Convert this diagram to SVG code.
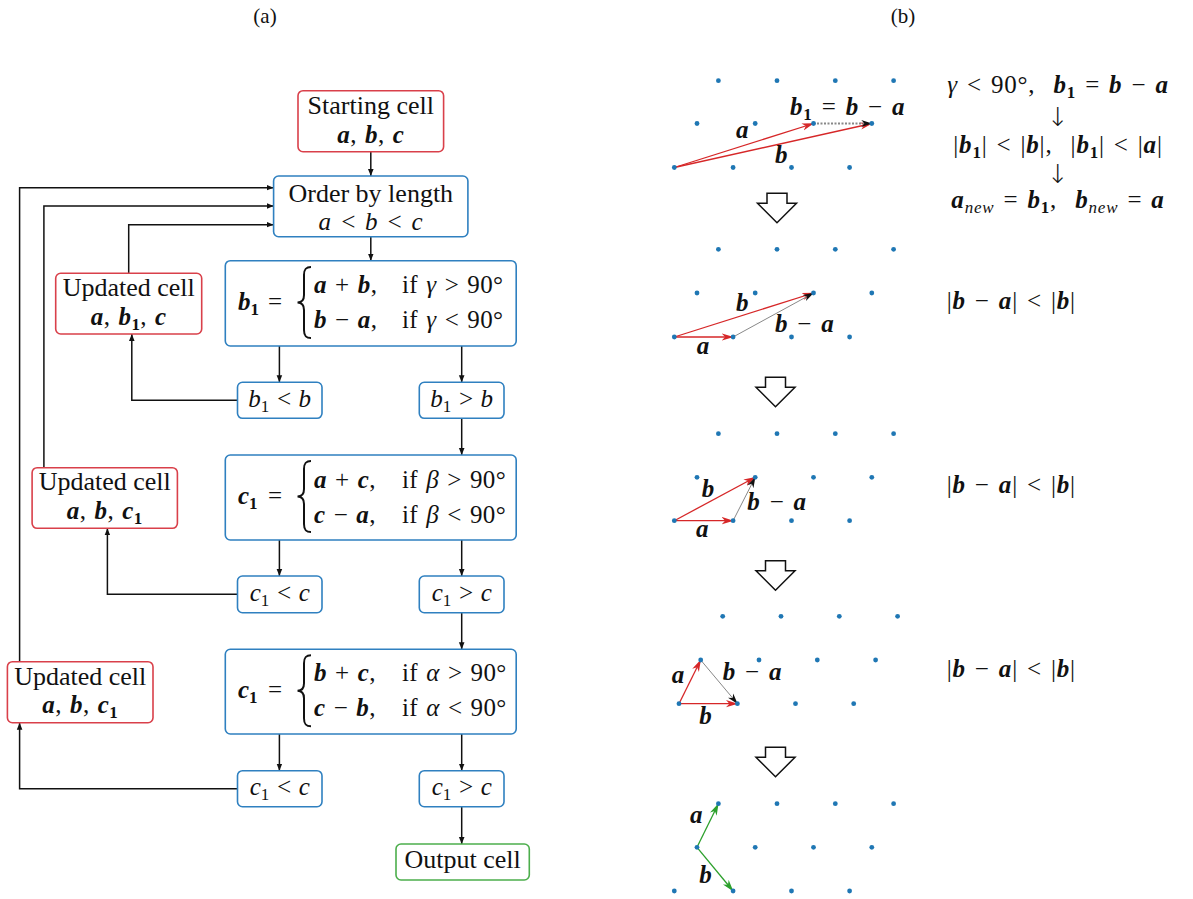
<svg xmlns="http://www.w3.org/2000/svg" xmlns:xlink="http://www.w3.org/1999/xlink" width="1193" height="899" viewBox="0 0 1193 899">
<style>
.tx{font-family:"Liberation Serif","Times New Roman",serif;font-size:26px;fill:#111}
.mt{font-family:"Liberation Serif","Times New Roman",serif;font-size:25px;fill:#111}
.sp{letter-spacing:0.4px;word-spacing:1.5px}
.spw{letter-spacing:0.8px;word-spacing:2px}
.ti{font-family:"Liberation Serif","Times New Roman",serif;font-size:21px;fill:#111}
.i{font-style:italic}
.bi{font-style:italic;font-weight:bold}
.bd{font-weight:bold}
.sub{font-size:17px}
.bx-r{fill:#fff;stroke:#d9404a;stroke-width:1.6}
.bx-b{fill:#fff;stroke:#2f80c0;stroke-width:1.6}
.bx-g{fill:#fff;stroke:#4cae4c;stroke-width:1.6}
.conn{fill:none;stroke:#111;stroke-width:1.5;marker-end:url(#ah)}
.brace{fill:none;stroke:#111;stroke-width:2}
.dot{fill:#1f77b4}
.vr{stroke:#d62728;stroke-width:1.3;fill:none;marker-end:url(#ahr)}
.vg{stroke:#2ca02c;stroke-width:1.3;fill:none;marker-end:url(#ahg)}
.vk{stroke:#888;stroke-width:1;fill:none;marker-end:url(#ahk)}
.vkd{stroke:#888;stroke-width:1.8;stroke-dasharray:2 1.5;fill:none;marker-end:url(#ahk)}
.darr{fill:#fff;stroke:#111;stroke-width:1.5}
.arw{font-family:"DejaVu Sans",sans-serif;font-weight:200;font-size:26px;fill:#111}
</style>
<defs>
<marker id="ah" viewBox="0 0 10 10" refX="10" refY="5" markerWidth="7" markerHeight="7" markerUnits="userSpaceOnUse" orient="auto"><path d="M0,1 L10,5 L0,9 z" fill="#111"/></marker>
<marker id="ahr" viewBox="0 0 12 8" refX="11.5" refY="4" markerWidth="12" markerHeight="8" markerUnits="userSpaceOnUse" orient="auto"><path d="M0,0.3 L12,4 L0,7.7 L3.5,4 z" fill="#d62728"/></marker>
<marker id="ahg" viewBox="0 0 12 8" refX="11.5" refY="4" markerWidth="12" markerHeight="8" markerUnits="userSpaceOnUse" orient="auto"><path d="M0,0.3 L12,4 L0,7.7 L3.5,4 z" fill="#2ca02c"/></marker>
<marker id="ahk" viewBox="0 0 12 8" refX="11.5" refY="4" markerWidth="11" markerHeight="7.5" markerUnits="userSpaceOnUse" orient="auto"><path d="M0,0.3 L12,4 L0,7.7 L3.5,4 z" fill="#111"/></marker>
<polygon id="darrow" points="-10,0 10,0 10,10 19.5,10 0,29.5 -19.5,10 -10,10"/>
</defs>
<rect width="1193" height="899" fill="#fff"/>

<text class="ti" x="265" y="23" text-anchor="middle">(a)</text>
<text class="ti" x="903" y="23" text-anchor="middle">(b)</text>

<g id="connectors">
<path class="conn" d="M370.8,151.7 V176"/>
<path class="conn" d="M370.8,236.7 V260.7"/>
<path class="conn" d="M279.4,346 V382.3"/>
<path class="conn" d="M461.7,346 V382.3"/>
<path class="conn" d="M237.5,400.3 H131.8 V334"/>
<path class="conn" d="M128.7,273.3 V224.7 H273.6"/>
<path class="conn" d="M461.7,418.3 V455"/>
<path class="conn" d="M279.4,540 V576"/>
<path class="conn" d="M461.7,540 V576"/>
<path class="conn" d="M237.5,594.3 H107.4 V528.3"/>
<path class="conn" d="M43.9,467.7 V206 H273.6"/>
<path class="conn" d="M461.7,612.7 V649.3"/>
<path class="conn" d="M279.4,734 V770.7"/>
<path class="conn" d="M461.7,734 V770.7"/>
<path class="conn" d="M237.5,788.7 H19.6 V722.7"/>
<path class="conn" d="M19.6,661.7 V187.7 H273.6"/>
<path class="conn" d="M461.7,806.7 V844"/>
</g>

<g id="n-start">
<rect class="bx-r" x="298" y="90.7" width="145.6" height="61" rx="5"/>
<text class="tx" x="370.8" y="114" text-anchor="middle">Starting cell</text>
<text class="mt sp" x="370.8" y="143" text-anchor="middle"><tspan class="bi">a</tspan>, <tspan class="bi">b</tspan>, <tspan class="bi">c</tspan></text>
</g>

<g id="n-order">
<rect class="bx-b" x="273.6" y="176" width="194.3" height="60.7" rx="5"/>
<text class="tx" x="370.8" y="202" text-anchor="middle">Order by length</text>
<text class="mt i sp" x="370.8" y="230" text-anchor="middle">a &lt; b &lt; c</text>
</g>

<g id="n-upd1">
<rect class="bx-r" x="55.7" y="273.3" width="146" height="60.7" rx="5"/>
<text class="tx" x="128.7" y="296" text-anchor="middle">Updated cell</text>
<text class="mt sp" x="128.7" y="325" text-anchor="middle"><tspan class="bi">a</tspan>, <tspan class="bi">b</tspan><tspan class="bd sub" dy="5">1</tspan><tspan dy="-5">, </tspan><tspan class="bi">c</tspan></text>
</g>

<g id="n-b1">
<rect class="bx-b" x="225.3" y="260.7" width="290.9" height="85.3" rx="5"/>
<text class="mt" y="310"><tspan x="238" class="bi">b</tspan><tspan class="bd sub" dy="5">1</tspan><tspan dy="-5" x="268">=</tspan></text>
<path class="brace" d="M311,267 C305.5,267 304,269.5 304,275 L304,295 C304,300 302,302.5 297.5,302.5 C302,302.5 304,305 304,310 L304,330 C304,335.5 305.5,338 311,338"/>
<text class="mt sp" y="293.3"><tspan x="314" class="bi">a</tspan> + <tspan class="bi">b</tspan>,<tspan x="402">if </tspan><tspan class="i">γ</tspan> &gt; 90°</text>
<text class="mt sp" y="328.3"><tspan x="314" class="bi">b</tspan> − <tspan class="bi">a</tspan>,<tspan x="402">if </tspan><tspan class="i">γ</tspan> &lt; 90°</text>
</g>

<g id="n-b1lt">
<rect class="bx-b" x="237.5" y="382.3" width="84.5" height="36" rx="5"/>
<text class="mt i" x="279.7" y="407" text-anchor="middle">b<tspan class="sub" font-style="normal" dy="5">1</tspan><tspan dy="-5"> &lt; b</tspan></text>
</g>
<g id="n-b1gt">
<rect class="bx-b" x="419.3" y="382.3" width="84.7" height="36" rx="5"/>
<text class="mt i" x="461.7" y="407" text-anchor="middle">b<tspan class="sub" font-style="normal" dy="5">1</tspan><tspan dy="-5"> &gt; b</tspan></text>
</g>

<g id="n-upd2">
<rect class="bx-r" x="32.1" y="467.7" width="145.3" height="60.6" rx="5"/>
<text class="tx" x="104.7" y="490" text-anchor="middle">Updated cell</text>
<text class="mt sp" x="104.7" y="519.3" text-anchor="middle"><tspan class="bi">a</tspan>, <tspan class="bi">b</tspan>, <tspan class="bi">c</tspan><tspan class="bd sub" dy="5">1</tspan></text>
</g>

<g id="n-c1beta">
<rect class="bx-b" x="225.3" y="455" width="290.9" height="85" rx="5"/>
<text class="mt" y="504.3"><tspan x="238" class="bi">c</tspan><tspan class="bd sub" dy="5">1</tspan><tspan dy="-5" x="268">=</tspan></text>
<path class="brace" d="M311,461 C305.5,461 304,463.5 304,469 L304,489 C304,494 302,496.5 297.5,496.5 C302,496.5 304,499 304,504 L304,524 C304,529.5 305.5,532 311,532"/>
<text class="mt sp" y="487.6"><tspan x="314" class="bi">a</tspan> + <tspan class="bi">c</tspan>,<tspan x="402">if </tspan><tspan class="i">β</tspan> &gt; 90°</text>
<text class="mt sp" y="522.6"><tspan x="314" class="bi">c</tspan> − <tspan class="bi">a</tspan>,<tspan x="402">if </tspan><tspan class="i">β</tspan> &lt; 90°</text>
</g>

<g id="n-c1lt1">
<rect class="bx-b" x="237.5" y="576" width="84.5" height="36.7" rx="5"/>
<text class="mt i" x="279.7" y="601" text-anchor="middle">c<tspan class="sub" font-style="normal" dy="5">1</tspan><tspan dy="-5"> &lt; c</tspan></text>
</g>
<g id="n-c1gt1">
<rect class="bx-b" x="419.3" y="576" width="84.7" height="36.7" rx="5"/>
<text class="mt i" x="461.7" y="601" text-anchor="middle">c<tspan class="sub" font-style="normal" dy="5">1</tspan><tspan dy="-5"> &gt; c</tspan></text>
</g>

<g id="n-upd3">
<rect class="bx-r" x="7.4" y="661.7" width="145.6" height="61" rx="5"/>
<text class="tx" x="80.2" y="685" text-anchor="middle">Updated cell</text>
<text class="mt sp" x="80.2" y="713.3" text-anchor="middle"><tspan class="bi">a</tspan>, <tspan class="bi">b</tspan>, <tspan class="bi">c</tspan><tspan class="bd sub" dy="5">1</tspan></text>
</g>

<g id="n-c1alpha">
<rect class="bx-b" x="225.3" y="649.3" width="290.9" height="84.7" rx="5"/>
<text class="mt" y="698.3"><tspan x="238" class="bi">c</tspan><tspan class="bd sub" dy="5">1</tspan><tspan dy="-5" x="268">=</tspan></text>
<path class="brace" d="M311,655.3 C305.5,655.3 304,657.8 304,663.3 L304,683.3 C304,688.3 302,690.8 297.5,690.8 C302,690.8 304,693.3 304,698.3 L304,718.3 C304,723.8 305.5,726.3 311,726.3"/>
<text class="mt sp" y="681"><tspan x="314" class="bi">b</tspan> + <tspan class="bi">c</tspan>,<tspan x="402">if </tspan><tspan class="i">α</tspan> &gt; 90°</text>
<text class="mt sp" y="716.3"><tspan x="314" class="bi">c</tspan> − <tspan class="bi">b</tspan>,<tspan x="402">if </tspan><tspan class="i">α</tspan> &lt; 90°</text>
</g>

<g id="n-c1lt2">
<rect class="bx-b" x="237.5" y="770.7" width="84.5" height="36" rx="5"/>
<text class="mt i" x="279.7" y="795" text-anchor="middle">c<tspan class="sub" font-style="normal" dy="5">1</tspan><tspan dy="-5"> &lt; c</tspan></text>
</g>
<g id="n-c1gt2">
<rect class="bx-b" x="419.3" y="770.7" width="84.7" height="36" rx="5"/>
<text class="mt i" x="461.7" y="795" text-anchor="middle">c<tspan class="sub" font-style="normal" dy="5">1</tspan><tspan dy="-5"> &gt; c</tspan></text>
</g>

<g id="n-output">
<rect class="bx-g" x="396" y="844" width="133.3" height="36" rx="5"/>
<text class="tx" x="462.7" y="868.3" text-anchor="middle">Output cell</text>
</g>

<!-- Panel (b) -->
<g id="panel1">
<path class="vr" d="M674.3,167.5 L813.5,123.5"/>
<path class="vr" d="M674.3,167.5 L871.8,123.5"/>
<path class="vkd" d="M813.5,123.5 L871.8,123.5"/>
<g class="dot">
<circle cx="718.4" cy="80.7" r="2.4"/><circle cx="777" cy="80.7" r="2.4"/><circle cx="835.3" cy="80.7" r="2.4"/><circle cx="893.6" cy="80.7" r="2.4"/>
<circle cx="697" cy="123.5" r="2.4"/><circle cx="755.2" cy="123.5" r="2.4"/><circle cx="813.5" cy="123.5" r="2.4"/><circle cx="871.8" cy="123.5" r="2.4"/>
<circle cx="674.3" cy="167.5" r="2.4"/><circle cx="733.1" cy="167.5" r="2.4"/><circle cx="791.5" cy="167.5" r="2.4"/><circle cx="849.6" cy="167.5" r="2.4"/>
</g>
<text class="mt bi" x="736" y="138.3">a</text>
<text class="mt bi" x="775" y="163.3">b</text>
<text class="mt spw" x="790" y="115"><tspan class="bi">b</tspan><tspan class="bd sub" dy="5">1</tspan><tspan dy="-5"> = </tspan><tspan class="bi">b</tspan> − <tspan class="bi">a</tspan></text>
<use xlink:href="#darrow" class="darr" x="777" y="193.3"/>
</g>

<g id="panel2">
<path class="vr" d="M674.3,337 L733.1,337"/>
<path class="vr" d="M674.3,337 L813.5,293"/>
<path class="vk" d="M733.1,337 L813.5,293"/>
<g class="dot">
<circle cx="718.4" cy="249.3" r="2.4"/><circle cx="777" cy="249.3" r="2.4"/><circle cx="835.3" cy="249.3" r="2.4"/><circle cx="893.6" cy="249.3" r="2.4"/>
<circle cx="697" cy="293" r="2.4"/><circle cx="755.2" cy="293" r="2.4"/><circle cx="813.5" cy="293" r="2.4"/><circle cx="871.8" cy="293" r="2.4"/>
<circle cx="674.3" cy="337" r="2.4"/><circle cx="733.1" cy="337" r="2.4"/><circle cx="791.5" cy="337" r="2.4"/><circle cx="849.6" cy="337" r="2.4"/>
</g>
<text class="mt bi" x="736" y="311">b</text>
<text class="mt bi" x="696.7" y="354">a</text>
<text class="mt spw" x="775" y="331.7"><tspan class="bi">b</tspan> − <tspan class="bi">a</tspan></text>
<use xlink:href="#darrow" class="darr" x="775.5" y="377.3"/>
</g>

<g id="panel3">
<path class="vr" d="M674.3,520.7 L733.1,520.7"/>
<path class="vr" d="M674.3,520.7 L755.2,477.3"/>
<path class="vk" d="M733.1,520.7 L755.2,477.3"/>
<g class="dot">
<circle cx="718.4" cy="433.7" r="2.4"/><circle cx="777" cy="433.7" r="2.4"/><circle cx="835.3" cy="433.7" r="2.4"/><circle cx="893.6" cy="433.7" r="2.4"/>
<circle cx="697" cy="477.3" r="2.4"/><circle cx="755.2" cy="477.3" r="2.4"/><circle cx="813.5" cy="477.3" r="2.4"/><circle cx="871.8" cy="477.3" r="2.4"/>
<circle cx="674.3" cy="520.7" r="2.4"/><circle cx="733.1" cy="520.7" r="2.4"/><circle cx="791.5" cy="520.7" r="2.4"/><circle cx="849.6" cy="520.7" r="2.4"/>
</g>
<text class="mt bi" x="701.7" y="496.7">b</text>
<text class="mt bi" x="696" y="537.3">a</text>
<text class="mt spw" x="747.3" y="510"><tspan class="bi">b</tspan> − <tspan class="bi">a</tspan></text>
<use xlink:href="#darrow" class="darr" x="775.5" y="560.7"/>
</g>

<g id="panel4">
<path class="vr" d="M679,703.7 L700.7,660"/>
<path class="vr" d="M679,703.7 L737.4,703.7"/>
<path class="vk" d="M700.7,660 L737.4,703.7"/>
<g class="dot">
<circle cx="722.7" cy="616.3" r="2.4"/><circle cx="781" cy="616.3" r="2.4"/><circle cx="839.3" cy="616.3" r="2.4"/><circle cx="897.6" cy="616.3" r="2.4"/>
<circle cx="700.7" cy="660" r="2.4"/><circle cx="759" cy="660" r="2.4"/><circle cx="817.3" cy="660" r="2.4"/><circle cx="875.6" cy="660" r="2.4"/>
<circle cx="679" cy="703.7" r="2.4"/><circle cx="737.4" cy="703.7" r="2.4"/><circle cx="795.5" cy="703.7" r="2.4"/><circle cx="853.7" cy="703.7" r="2.4"/>
</g>
<text class="mt bi" x="671.7" y="682.7">a</text>
<text class="mt bi" x="699.3" y="724">b</text>
<text class="mt spw" x="722.7" y="680"><tspan class="bi">b</tspan> − <tspan class="bi">a</tspan></text>
<use xlink:href="#darrow" class="darr" x="775.5" y="747.3"/>
</g>

<g id="panel5">
<path class="vg" d="M697,847.3 L718.4,803.7"/>
<path class="vg" d="M697,847.3 L733.1,891"/>
<g class="dot">
<circle cx="718.4" cy="803.7" r="2.4"/><circle cx="777" cy="803.7" r="2.4"/><circle cx="835.3" cy="803.7" r="2.4"/><circle cx="893.6" cy="803.7" r="2.4"/>
<circle cx="697" cy="847.3" r="2.4"/><circle cx="755.2" cy="847.3" r="2.4"/><circle cx="813.5" cy="847.3" r="2.4"/><circle cx="871.8" cy="847.3" r="2.4"/>
<circle cx="674.3" cy="891" r="2.4"/><circle cx="733.1" cy="891" r="2.4"/><circle cx="791.5" cy="891" r="2.4"/><circle cx="849.6" cy="891" r="2.4"/>
</g>
<text class="mt bi" x="690" y="823.3">a</text>
<text class="mt bi" x="699.3" y="883.3">b</text>
</g>

<g id="right-text">
<text class="mt spw" x="1058" y="93.3" text-anchor="middle"><tspan class="i">γ</tspan> &lt; 90°,&#160;&#160;<tspan class="bi">b</tspan><tspan class="bd sub" dy="5">1</tspan><tspan dy="-5"> = </tspan><tspan class="bi">b</tspan> − <tspan class="bi">a</tspan></text>
<text class="arw" x="1058" y="126" text-anchor="middle">↓</text>
<text class="mt spw" x="1058" y="153.3" text-anchor="middle">|<tspan class="bi">b</tspan><tspan class="bd sub" dy="5">1</tspan><tspan dy="-5">| &lt; |</tspan><tspan class="bi">b</tspan>|,&#160;&#160;|<tspan class="bi">b</tspan><tspan class="bd sub" dy="5">1</tspan><tspan dy="-5">| &lt; |</tspan><tspan class="bi">a</tspan>|</text>
<text class="arw" x="1058" y="183" text-anchor="middle">↓</text>
<text class="mt spw" x="1058" y="208" text-anchor="middle"><tspan class="bi">a</tspan><tspan class="i sub" dy="5">new</tspan><tspan dy="-5"> = </tspan><tspan class="bi">b</tspan><tspan class="bd sub" dy="5">1</tspan><tspan dy="-5">,&#160;&#160;</tspan><tspan class="bi">b</tspan><tspan class="i sub" dy="5">new</tspan><tspan dy="-5"> = </tspan><tspan class="bi">a</tspan></text>
<text class="mt spw" x="946.7" y="309.3">|<tspan class="bi">b</tspan> − <tspan class="bi">a</tspan>| &lt; |<tspan class="bi">b</tspan>|</text>
<text class="mt spw" x="946.7" y="493.3">|<tspan class="bi">b</tspan> − <tspan class="bi">a</tspan>| &lt; |<tspan class="bi">b</tspan>|</text>
<text class="mt spw" x="946.7" y="677.3">|<tspan class="bi">b</tspan> − <tspan class="bi">a</tspan>| &lt; |<tspan class="bi">b</tspan>|</text>
</g>
</svg>
